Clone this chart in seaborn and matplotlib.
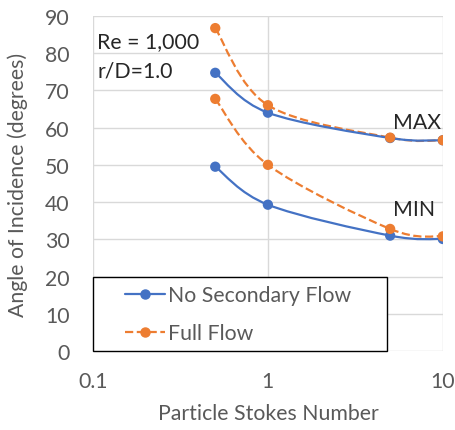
import numpy as np
import pandas as pd
import matplotlib
matplotlib.use("Agg")
import matplotlib.pyplot as plt
import seaborn as sns
from matplotlib.path import Path
from matplotlib.patches import PathPatch, Rectangle
from matplotlib.lines import Line2D

# data
stokes = [0.5, 1, 5, 10]
no_sec_max = [74.7, 64.0, 57.2, 56.6]
no_sec_min = [49.5, 39.3, 31.0, 30.1]
full_max = [86.7, 66.0, 57.3, 56.6]
full_min = [67.7, 50.0, 32.8, 30.8]

blue = "#4472C4"
orange = "#ED7D31"
grey_txt = "#595959"
fs = 15.3

sns.set_style("white")
plt.rcParams["font.family"] = ["Lato", "DejaVu Sans"]

rows = []
for name, mx, mn in [("No Secondary Flow", no_sec_max, no_sec_min),
                     ("Full Flow", full_max, full_min)]:
    for cur, vals in [("MAX", mx), ("MIN", mn)]:
        for s, v in zip(stokes, vals):
            rows.append({"flow": name, "curve": cur, "St": s, "angle": v})
df = pd.DataFrame(rows)


def smooth_path(xs, ys):
    # excel-like smoothed line: cubic bezier segments in log-x space
    lx = np.log10(xs)
    y = np.asarray(ys, float)
    n = len(lx)
    verts = [(xs[0], y[0])]
    codes = [Path.MOVETO]
    for i in range(n - 1):
        i0 = max(i - 1, 0)
        i3 = min(i + 2, n - 1)
        c1 = (lx[i] + (lx[i + 1] - lx[i0]) / 6, y[i] + (y[i + 1] - y[i0]) / 6)
        c2 = (lx[i + 1] - (lx[i3] - lx[i]) / 6, y[i + 1] - (y[i3] - y[i]) / 6)
        verts += [(10 ** c1[0], c1[1]), (10 ** c2[0], c2[1]), (xs[i + 1], y[i + 1])]
        codes += [Path.CURVE4] * 3
    return Path(verts, codes)


fig = plt.figure(figsize=(4.56, 4.31), dpi=100)
ax = fig.add_axes([0.204, 0.183, 0.767, 0.778])
ax.set_xscale("log")

styles = {"No Secondary Flow": (blue, "-"), "Full Flow": (orange, "--")}
for (name, cur), g in df.groupby(["flow", "curve"]):
    col, ls = styles[name]
    p = smooth_path(g["St"].values, g["angle"].values)
    ax.add_patch(PathPatch(p, facecolor="none", edgecolor=col, lw=1.6,
                           ls=ls, zorder=3))

sns.scatterplot(data=df, x="St", y="angle", hue="flow",
                palette={"No Secondary Flow": blue, "Full Flow": orange},
                s=55, edgecolor="none", legend=False, ax=ax, zorder=4)

ax.set_xlim(0.1, 10)
ax.set_ylim(0, 90)
ax.set_yticks(range(0, 91, 10))
ax.set_xticks([0.1, 1, 10])
ax.set_xticklabels(["0.1", "1", "10"])
ax.minorticks_off()
ax.grid(True, color="#d9d9d9", lw=1)
for sp in ax.spines.values():
    sp.set_visible(False)
ax.tick_params(length=0, labelsize=fs, labelcolor=grey_txt)
ax.tick_params(axis="x", pad=14)
ax.tick_params(axis="y", pad=17)
ax.set_xlabel("Particle Stokes Number", fontsize=fs, color=grey_txt)
ax.set_ylabel("Angle of Incidence (degrees)", fontsize=fs, color=grey_txt)
ax.xaxis.label.set_va("center")
ax.yaxis.label.set_va("center")
ax.xaxis.set_label_coords(0.5, -0.185)
ax.yaxis.set_label_coords(-0.215, 0.5)

ax.text(0.106, 83.1, "Re = 1,000", fontsize=fs, va="center", ha="left")
ax.text(0.106, 75.3, "r/D=1.0", fontsize=fs, va="center", ha="left")
ax.text(5.2, 61.5, "MAX", fontsize=fs, va="center", ha="left")
ax.text(5.2, 38.2, "MIN", fontsize=fs, va="center", ha="left")

# legend box drawn separately so the entries can sit further in
ax.add_patch(Rectangle((0, 0), 0.84, 0.22, transform=ax.transAxes,
                       facecolor="white", edgecolor="black", lw=1.0,
                       zorder=5, clip_on=False))
handles = [Line2D([], [], color=blue, ls="-", lw=1.6, marker="o", markersize=6.5),
           Line2D([], [], color=orange, ls="--", lw=1.6, marker="o", markersize=6.5)]
leg = ax.legend(handles, ["No Secondary Flow", "Full Flow"], loc="center left",
                bbox_to_anchor=(0.091, 0.11), fontsize=fs, frameon=False,
                handlelength=1.9, handletextpad=0.15, borderaxespad=0,
                labelspacing=0.85, borderpad=0, handleheight=0.7)
for t in leg.get_texts():
    t.set_color(grey_txt)
leg.set_zorder(6)

fig.savefig("out.png", dpi=100)
